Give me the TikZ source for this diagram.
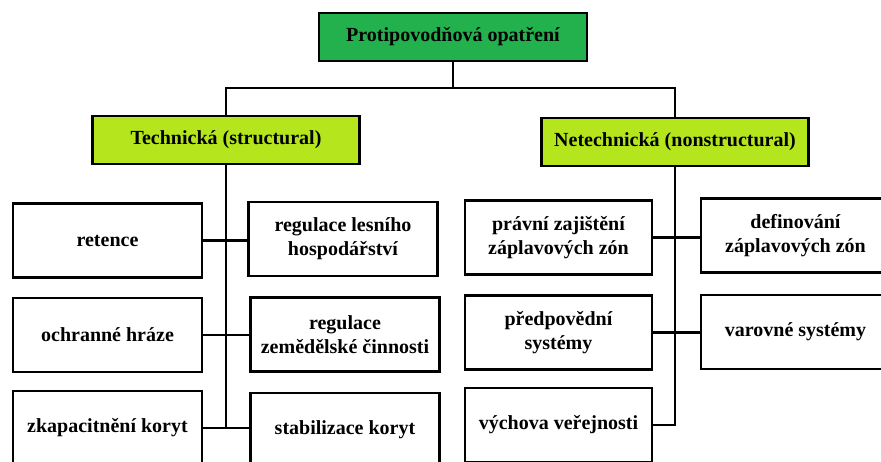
\documentclass[tikz,border=0pt]{standalone}
\usepackage{fontspec}
\setmainfont{Liberation Serif}
\usetikzlibrary{positioning, calc}

\definecolor{topgreen}{RGB}{34,177,76}
\definecolor{limegreen}{RGB}{181,230,29}

\begin{document}
\begin{tikzpicture}[
    x=1pt, y=-1pt,
    box/.style={draw, rectangle, line width=2.6pt, inner sep=0pt, align=center,
                font=\bfseries\fontsize{20}{24}\selectfont},
    root/.style={box, fill=topgreen, minimum width=268pt, minimum height=48pt},
    branch/.style={box, fill=limegreen, minimum width=267pt, minimum height=48pt},
    leaf/.style={box, fill=white, minimum width=189pt, minimum height=74pt},
    conn/.style={line width=2.2pt}
]
\useasboundingbox (0,0) rectangle (881,461);
\clip (0,0) rectangle (881,461);

\node[root] (prot) at (453,37) {Protipovodňová opatření};
\node[branch] (tech) at (226,140) {Technická (structural)};
\node[branch] (netech) at (675,142) {Netechnická (nonstructural)};

% technicka
\node[leaf] (ret)   at (107.5,240.5) {retence};
\node[leaf] (lesni) at (343,239)     {regulace lesního\\hospodářství};
\node[leaf] (hraze) at (107.5,335)   {ochranné hráze};
\node[leaf] (zemed) at (345,334.5)   {regulace\\zemědělské činnosti};
\node[leaf] (zkap)  at (107.5,428)   {zkapacitnění koryt};
\node[leaf] (stab)  at (345,430)     {stabilizace koryt};

% netechnicka
\node[leaf, minimum width=187pt] (pravni) at (558.5,237.5) {právní zajištění\\záplavových zón};
\node[leaf, minimum width=187pt] (predp)  at (558.5,332.5) {předpovědní\\systémy};
\node[leaf, minimum width=187pt] (vych)   at (558.5,425)   {výchova veřejnosti};
\node[leaf] (defin) at (795.5,235.5) {definování\\záplavových zón};
\node[leaf] (varov) at (795.5,332)   {varovné systémy};

\coordinate (split) at (453,88);
\draw[conn] (prot.south) -- (split);
\draw[conn] (tech.north) |- (split) -| (netech.north);

\draw[conn] (tech.south) -- (tech.south |- zkap.east);
\draw[conn] (ret.east)  -- (ret.east -| lesni.west);
\draw[conn] (hraze.east) -- (hraze.east -| zemed.west);
\draw[conn] (zkap.east) -- (zkap.east -| stab.west);

\draw[conn] (netech.south) -- (netech.south |- vych.east) -- (vych.east);
\draw[conn] (pravni.east) -- (pravni.east -| defin.west);
\draw[conn] (predp.east) -- (predp.east -| varov.west);
\end{tikzpicture}
\end{document}
